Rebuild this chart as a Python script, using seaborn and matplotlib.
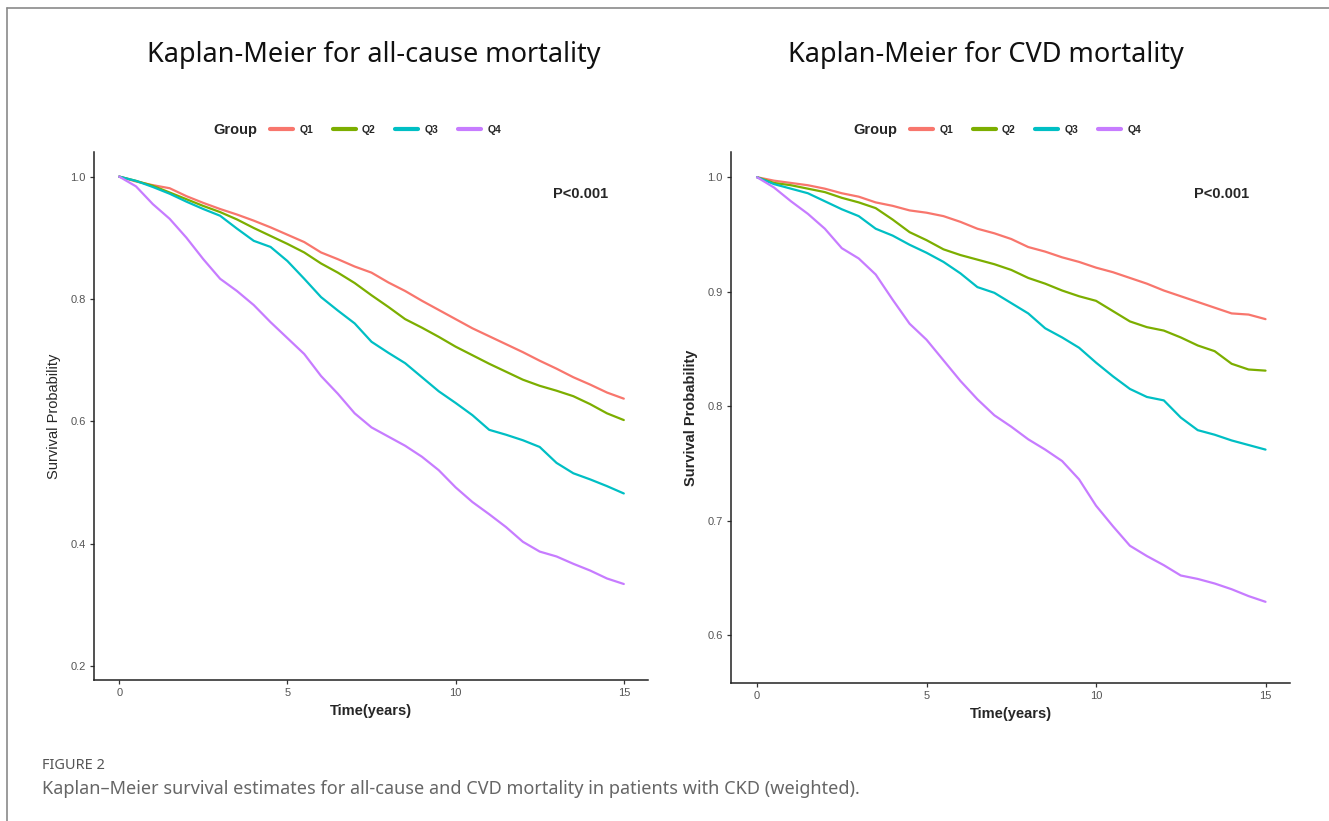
import numpy as np
import pandas as pd
import matplotlib
matplotlib.use("Agg")
import matplotlib.pyplot as plt
import seaborn as sns
from matplotlib.lines import Line2D

# time grid (years)
time = [0, 0.5, 1, 1.5, 2, 2.5, 3, 3.5, 4, 4.5, 5, 5.5, 6, 6.5, 7, 7.5,
        8, 8.5, 9, 9.5, 10, 10.5, 11, 11.5, 12, 12.5, 13, 13.5, 14, 14.5, 15]
groups = ["Q1", "Q2", "Q3", "Q4"]

# all-cause mortality survival
all_q1 = [1.0, 0.992, 0.986, 0.981, 0.968, 0.957, 0.947, 0.938, 0.928, 0.917, 0.905,
          0.893, 0.876, 0.865, 0.853, 0.843, 0.827, 0.813, 0.797, 0.782, 0.767,
          0.752, 0.739, 0.726, 0.713, 0.699, 0.686, 0.672, 0.660, 0.647, 0.637]
all_q2 = [1.0, 0.993, 0.985, 0.974, 0.963, 0.952, 0.942, 0.930, 0.916, 0.903, 0.890,
          0.876, 0.858, 0.843, 0.826, 0.806, 0.787, 0.767, 0.753, 0.738, 0.722,
          0.708, 0.694, 0.681, 0.668, 0.658, 0.650, 0.641, 0.628, 0.613, 0.602]
all_q3 = [1.0, 0.993, 0.983, 0.972, 0.959, 0.947, 0.936, 0.915, 0.895, 0.885, 0.862,
          0.833, 0.803, 0.781, 0.760, 0.730, 0.712, 0.695, 0.672, 0.649, 0.630,
          0.610, 0.586, 0.578, 0.569, 0.558, 0.532, 0.515, 0.505, 0.494, 0.482]
all_q4 = [1.0, 0.984, 0.955, 0.931, 0.900, 0.865, 0.833, 0.813, 0.790, 0.762, 0.736,
          0.710, 0.674, 0.645, 0.613, 0.590, 0.575, 0.560, 0.542, 0.520, 0.492,
          0.468, 0.448, 0.427, 0.403, 0.387, 0.379, 0.367, 0.356, 0.343, 0.334]

# CVD mortality survival
cvd_q1 = [1.0, 0.997, 0.995, 0.993, 0.990, 0.986, 0.983, 0.978, 0.975, 0.971, 0.969,
          0.966, 0.961, 0.955, 0.951, 0.946, 0.939, 0.935, 0.930, 0.926, 0.921,
          0.917, 0.912, 0.907, 0.901, 0.896, 0.891, 0.886, 0.881, 0.880, 0.876]
cvd_q2 = [1.0, 0.995, 0.993, 0.990, 0.987, 0.982, 0.978, 0.973, 0.963, 0.952, 0.945,
          0.937, 0.932, 0.928, 0.924, 0.919, 0.912, 0.907, 0.901, 0.896, 0.892,
          0.883, 0.874, 0.869, 0.866, 0.860, 0.853, 0.848, 0.837, 0.832, 0.831]
cvd_q3 = [1.0, 0.994, 0.990, 0.986, 0.979, 0.972, 0.966, 0.955, 0.949, 0.941, 0.934,
          0.926, 0.916, 0.904, 0.899, 0.890, 0.881, 0.868, 0.860, 0.851, 0.838,
          0.826, 0.815, 0.808, 0.805, 0.790, 0.779, 0.775, 0.770, 0.766, 0.762]
cvd_q4 = [1.0, 0.991, 0.979, 0.968, 0.955, 0.938, 0.929, 0.915, 0.893, 0.872, 0.858,
          0.840, 0.822, 0.806, 0.792, 0.782, 0.771, 0.762, 0.752, 0.736, 0.713,
          0.695, 0.678, 0.669, 0.661, 0.652, 0.649, 0.645, 0.640, 0.634, 0.629]

palette = ["#F8766D", "#7CAE00", "#00BFC4", "#C77CFF"]


def long_df(series):
    rows = []
    for g, vals in zip(groups, series):
        for t, v in zip(time, vals):
            rows.append((t, v, g))
    return pd.DataFrame(rows, columns=["time", "surv", "Group"])


df_all = long_df([all_q1, all_q2, all_q3, all_q4])
df_cvd = long_df([cvd_q1, cvd_q2, cvd_q3, cvd_q4])

sns.set_style("white")
plt.rcParams["font.family"] = ["Liberation Sans", "DejaVu Sans"]

fig = plt.figure(figsize=(13.29, 8.21), dpi=100)
ax1 = fig.add_axes([0.0707, 0.1717, 0.4169, 0.643])
ax2 = fig.add_axes([0.5500, 0.1680, 0.4206, 0.6468])


def style_axis(ax, yticks, ylim, xlim, bold_ylabel):
    ax.set_xlim(*xlim)
    ax.set_ylim(*ylim)
    ax.set_xticks([0, 5, 10, 15])
    ax.set_yticks(yticks)
    ax.set_yticklabels([f"{v:.1f}" for v in yticks])
    for s in ["top", "right"]:
        ax.spines[s].set_visible(False)
    for s in ["left", "bottom"]:
        ax.spines[s].set_color("#222222")
        ax.spines[s].set_linewidth(1.1)
    ax.tick_params(axis="both", direction="out", length=3, width=0.9,
                   color="#333333", labelcolor="#555555", labelsize=8, pad=3,
                   bottom=True, left=True)
    ax.set_xlabel("Time(years)", fontsize=10.5, fontweight="bold", labelpad=4)
    ax.set_ylabel("Survival Probability", fontsize=10.5,
                  fontweight="bold" if bold_ylabel else "normal", labelpad=7)
    ax.grid(False)


sns.lineplot(data=df_all, x="time", y="surv", hue="Group", palette=palette,
             linewidth=1.6, ax=ax1, legend=False)
sns.lineplot(data=df_cvd, x="time", y="surv", hue="Group", palette=palette,
             linewidth=1.6, ax=ax2, legend=False)

style_axis(ax1, [0.2, 0.4, 0.6, 0.8, 1.0], (0.177, 1.04), (-0.75, 15.72), False)
style_axis(ax2, [0.6, 0.7, 0.8, 0.9, 1.0], (0.558, 1.022), (-0.77, 15.72), True)

ax1.text(13.7, 0.972, "P<0.001", fontsize=10.5, fontweight="bold", ha="center", va="center")
ax2.text(13.7, 0.985, "P<0.001", fontsize=10.5, fontweight="bold", ha="center", va="center")

# titles
title_font = ["Noto Sans", "DejaVu Sans"]
fig.text(374 / 1329, 1 - 55 / 821, "Kaplan-Meier for all-cause mortality",
         fontsize=19.5, ha="center", va="center", family=title_font, color="#111111")
fig.text(986 / 1329, 1 - 55 / 821, "Kaplan-Meier for CVD mortality",
         fontsize=19.5, ha="center", va="center", family=title_font, color="#111111")

# legends
handles = [Line2D([], [], color=c, linewidth=3) for c in palette]
for gx, lx in [(213, 270), (853, 910)]:
    fig.text(gx / 1329, 1 - 130 / 821, "Group", fontsize=10.5, fontweight="bold",
             ha="left", va="center")
    fig.legend(handles, groups, loc="center left",
               bbox_to_anchor=(lx / 1329, 1 - 130 / 821), ncol=4, frameon=False,
               prop={"size": 7.5, "weight": "bold"}, handlelength=2.2,
               handletextpad=0.6, columnspacing=1.9, borderaxespad=0, borderpad=0)

# caption
cap_font = ["Noto Sans", "DejaVu Sans"]
fig.text(42 / 1329, 1 - 765 / 821, "FIGURE 2", fontsize=10.5, ha="left", va="center",
         family=cap_font, color="#555555")
fig.text(42 / 1329, 1 - 789 / 821,
         "Kaplan\u2013Meier survival estimates for all-cause and CVD mortality in patients with CKD (weighted).",
         fontsize=13, ha="left", va="center", family=cap_font, color="#666666")

# page frame (top and left border)
fig.add_artist(Line2D([7 / 1329, 1.0], [1 - 8 / 821, 1 - 8 / 821],
                      transform=fig.transFigure, color="#8a8a8a", linewidth=1.2))
fig.add_artist(Line2D([7 / 1329, 7 / 1329], [0.0, 1 - 8 / 821],
                      transform=fig.transFigure, color="#8a8a8a", linewidth=1.2))

fig.savefig("out.png", dpi=100, facecolor="white")
